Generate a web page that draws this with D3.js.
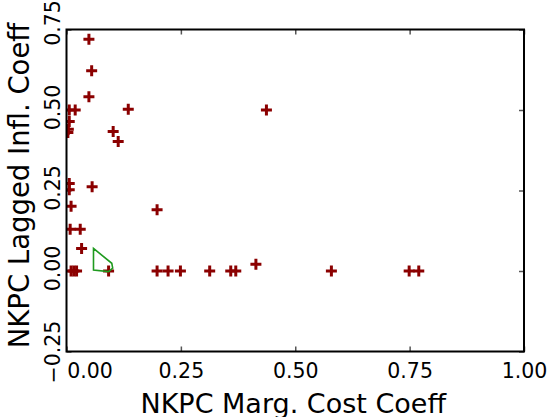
<!DOCTYPE html>
<html>
<head>
<meta charset="utf-8">
<script src="https://cdn.jsdelivr.net/npm/d3@7"></script>
<style>
  body{margin:0;background:#fff}
  text{font-family:"DejaVu Sans",sans-serif;fill:#000}
</style>
</head>
<body>
<script>
// estimated points
var mcCoeff=[0.049,0.055,0.049,0.135,0.006,0.019,0.437,0.006,0.004,0.003,0.102,0.113,
             0.006,0.006,0.056,0.010,0.198,0.008,0.030,0.033,0.010,0.016,0.022,0.092,
             0.198,0.222,0.249,0.313,0.359,0.370,0.414,0.579,0.749,0.770]
var lagCoeff=[0.72,0.622,0.541,0.502,0.50,0.50,0.50,0.464,0.44,0.43,0.433,0.402,
              0.272,0.252,0.262,0.201,0.19,0.13,0.13,0.07,0.0,0.0,0.0,0.0,
              0.0,0.0,0.0,0.0,0.0,0.0,0.021,0.0,0.0,0.0]
// green region outline
var hullX=[0.059,0.099,0.101,0.092,0.059]
var hullY=[0.070,0.024,0.009,-0.002,0.003]
var xTicks=[0,0.25,0.5,0.75,1]
var yTicks=[-0.25,0,0.25,0.5,0.75]

var screen={width:547,height:417}
var margins={top:29.5,right:23,bottom:65.5,left:66.5}
var width=screen.width-margins.left-margins.right
var height=screen.height-margins.top-margins.bottom

var xScale=d3.scaleLinear().domain([0,1]).range([0,width])
var yScale=d3.scaleLinear().domain([-0.25,0.75]).range([height,0])

var svg=d3.select("body").append("svg")
          .attr("width",screen.width)
          .attr("height",screen.height)
svg.append("defs").append("clipPath").attr("id","clip")
   .append("rect").attr("width",width).attr("height",height)

var plot=svg.append("g")
            .attr("transform","translate("+margins.left+","+margins.top+")")

//inner ticks on all four sides
var fmt=d3.format(".2f")
var tickLen=5
plot.append("g").attr("id","xAxis")
    .attr("transform","translate(0,"+height+")")
    .call(d3.axisBottom(xScale).tickValues(xTicks).tickSize(-tickLen).tickPadding(tickLen+10).tickFormat(fmt))
plot.append("g").attr("id","xAxisTop")
    .call(d3.axisTop(xScale).tickValues(xTicks).tickSize(-tickLen).tickFormat(""))
plot.append("g").attr("id","yAxis")
    .call(d3.axisLeft(yScale).tickValues(yTicks).tickSize(-tickLen).tickFormat(fmt))
plot.append("g").attr("id","yAxisRight")
    .attr("transform","translate("+width+",0)")
    .call(d3.axisRight(yScale).tickValues(yTicks).tickSize(-tickLen).tickFormat(""))
plot.selectAll(".domain").remove()
plot.selectAll(".tick line").attr("stroke","#555").attr("stroke-width",1.5)

plot.selectAll("#xAxis .tick text")
    .attr("font-size",20.5)
    .attr("y",null).attr("dy",null)
    .attr("transform",function(d){return d===0?"translate(23,26.5)":"translate(0,26.5)"})
plot.selectAll("#yAxis .tick text")
    .attr("font-size",20.5)
    .attr("x",null).attr("dy",null)
    .attr("text-anchor","middle")
    .attr("transform",function(d){
      var shift=d===0.75?-7:(d===-0.25?0:-3)
      return "translate(-6.5,"+shift+") rotate(-90)"})

//points
var pts=mcCoeff.map(function(d,i){return {x:d,y:lagCoeff[i]}})
var marks=plot.append("g").attr("clip-path","url(#clip)")
marks.selectAll("path.pt")
     .data(pts)
     .enter()
     .append("path")
     .attr("class","pt")
     .attr("d","M-5.5,0H5.5M0,-5.5V5.5")
     .attr("transform",function(d){return "translate("+xScale(d.x)+","+yScale(d.y)+")"})
     .attr("stroke","#8b0000")
     .attr("stroke-width",3)
     .attr("fill","none")

var hull=hullX.map(function(d,i){return [xScale(d),yScale(hullY[i])]})
marks.append("path")
     .attr("d",d3.line().curve(d3.curveLinearClosed)(hull))
     .attr("fill","none")
     .attr("stroke","#1f9a1f")
     .attr("stroke-width",1.6)

//frame
plot.append("rect")
    .attr("width",width).attr("height",height)
    .attr("fill","none").attr("stroke","#000").attr("stroke-width",2)

//labels
svg.append("text")
   .attr("x",margins.left+width/2-2)
   .attr("y",413)
   .attr("text-anchor","middle")
   .attr("font-size",27)
   .text("NKPC Marg. Cost Coeff")
svg.append("text")
   .attr("transform","translate(29,"+(margins.top+height/2-5)+") rotate(-90)")
   .attr("text-anchor","middle")
   .attr("font-size",27.5)
   .text("NKPC Lagged Infl. Coeff")
</script>
</body>
</html>
